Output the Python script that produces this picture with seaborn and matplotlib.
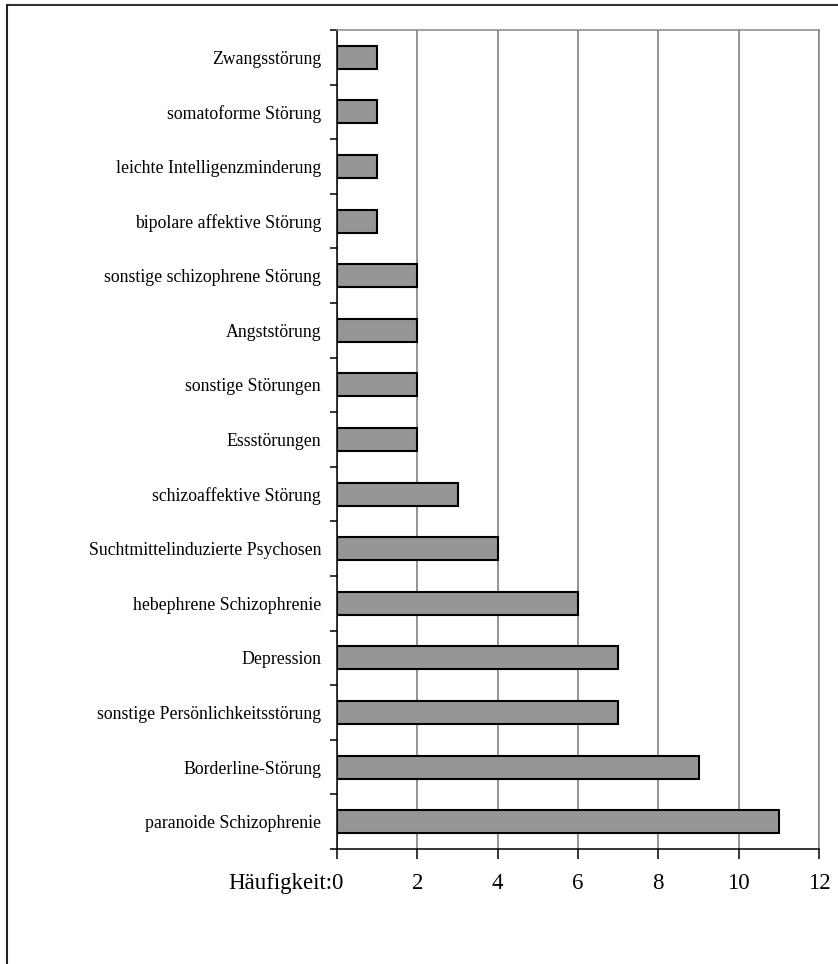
import matplotlib
matplotlib.use("Agg")
import matplotlib.pyplot as plt
from matplotlib.lines import Line2D
from matplotlib.ticker import FixedLocator
import seaborn as sns
import pandas as pd

# Diagnoses (top to bottom) and their frequencies
diagnosen = [
    "Zwangsstörung",
    "somatoforme Störung",
    "leichte Intelligenzminderung",
    "bipolare affektive Störung",
    "sonstige schizophrene Störung",
    "Angststörung",
    "sonstige Störungen",
    "Essstörungen",
    "schizoaffektive Störung",
    "Suchtmittelinduzierte Psychosen",
    "hebephrene Schizophrenie",
    "Depression",
    "sonstige Persönlichkeitsstörung",
    "Borderline-Störung",
    "paranoide Schizophrenie",
]
haeufigkeit = [1, 1, 1, 1, 2, 2, 2, 2, 3, 4, 6, 7, 7, 9, 11]
x_ticks = [0, 2, 4, 6, 8, 10, 12]
x_label = "Häufigkeit:"

df = pd.DataFrame({"Diagnose": diagnosen, "Häufigkeit": haeufigkeit})

sns.set_theme(style="white")
plt.rcParams["font.family"] = ["Liberation Serif", "DejaVu Serif"]

fig = plt.figure(figsize=(8.38, 9.64), dpi=100)
ax = fig.add_axes([337 / 838, 1 - 849 / 964, (819 - 337) / 838, (849 - 30) / 964])

sns.barplot(data=df, x="Häufigkeit", y="Diagnose", orient="h", order=diagnosen,
            color="#969696", saturation=1, width=0.42, edgecolor="black",
            linewidth=1.5, ax=ax, zorder=3)

ax.set_xlim(0, 12)
ax.set_ylim(len(diagnosen) - 0.5, -0.5)
ax.xaxis.set_major_locator(FixedLocator(x_ticks))
ax.set_xticklabels([str(t) for t in x_ticks])
ax.set_xlabel("")
ax.set_ylabel("")

# vertical gridlines
ax.set_axisbelow(True)
ax.grid(axis="x", color="#777777", linewidth=1.1)
ax.grid(axis="y", visible=False)

# spines
for side in ("top", "right"):
    ax.spines[side].set_color("#888888")
    ax.spines[side].set_linewidth(1.1)
for side in ("left", "bottom"):
    ax.spines[side].set_color("black")
    ax.spines[side].set_linewidth(1.1)

# y ticks at category boundaries, labels centred on bars
ax.yaxis.set_minor_locator(FixedLocator([i - 0.5 for i in range(len(diagnosen) + 1)]))
ax.tick_params(axis="y", which="major", length=0, pad=11.5, labelsize=12.8, labelcolor="black")
ax.tick_params(axis="y", which="minor", left=True, length=5, width=1.1, color="black", direction="out")
ax.tick_params(axis="x", which="major", bottom=True, length=7, width=1.1, color="black",
               direction="out", pad=10, labelsize=16.5, labelcolor="black")

ax.annotate(x_label, xy=(0, 0), xycoords=("data", "axes fraction"),
            xytext=(-3.5, -17.5), textcoords="offset points",
            ha="right", va="top", fontsize=16.5, color="black")

# outer frame (top and left edge)
fig.add_artist(Line2D([7 / 838, 1.0], [1 - 5 / 964, 1 - 5 / 964],
                      transform=fig.transFigure, color="#333333", linewidth=1.5))
fig.add_artist(Line2D([7 / 838, 7 / 838], [0.0, 1 - 5 / 964],
                      transform=fig.transFigure, color="#222222", linewidth=1.5))

fig.savefig("out.png", dpi=100, facecolor="white")
